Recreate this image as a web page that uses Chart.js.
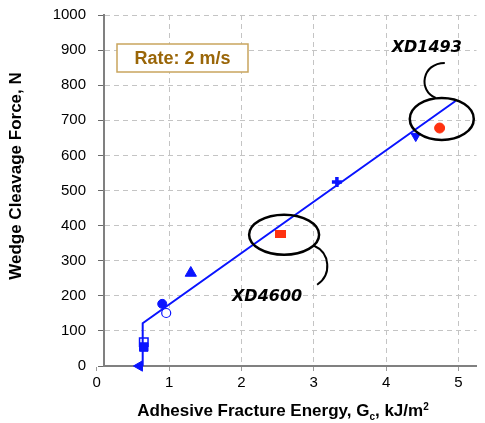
<!DOCTYPE html>
<html>
<head>
<meta charset="utf-8">
<script src="https://cdn.jsdelivr.net/npm/chart.js@4.4.1/dist/chart.umd.min.js"></script>
<style>
  html, body { margin: 0; padding: 0; background: #fff; }
  #wrap { width: 485px; height: 423px; position: relative; }
</style>
</head>
<body>
<div id="wrap"><canvas id="chart" width="485" height="423"></canvas></div>
<script>
// values
const xTicks = [0, 1, 2, 3, 4, 5];
const yTicks = [0, 100, 200, 300, 400, 500, 600, 700, 800, 900, 1000];

// blue markers: left triangle, open square, filled square, filled circle,
// open circle, up triangle, cross, down triangle
const blueX = [0.59, 0.65, 0.65, 0.905, 0.96, 1.30, 3.32, 4.41];
const blueY = [0, 68, 54, 177, 151, 265, 524, 655];

// red markers: XD4600, XD1493
const redX = [2.54, 4.74];
const redY = [376, 678];

// fitted trend line
const fitX = [0.635, 0.635, 4.96];
const fitY = [0, 122, 755];

// callouts
const calloutNames = ['XD4600', 'XD1493'];
const calloutX = [2.59, 4.77];
const calloutY = [374, 704];

const BLUE = '#0a14ff';
const RED = '#ff3210';

function toPoints(xs, ys) {
    return xs.map((x, i) => ({ x: x, y: ys[i] }));
}

// wide red rectangle marker
const redRect = document.createElement('canvas');
redRect.width = 11;
redRect.height = 8;
(function () {
    const c = redRect.getContext('2d');
    c.fillStyle = RED;
    c.fillRect(0, 0, 11, 8);
})();

const decorations = {
    id: 'decorations',
    afterDraw(chart) {
        const ctx = chart.ctx;
        const xs = chart.scales.x;
        const ys = chart.scales.y;
        ctx.save();

        // Rate box
        ctx.fillStyle = '#fff';
        ctx.fillRect(117, 44, 131, 28);
        ctx.strokeStyle = '#c9a55e';
        ctx.lineWidth = 1.5;
        ctx.strokeRect(117, 44, 131, 28);
        ctx.fillStyle = '#9a6608';
        ctx.font = 'bold 18px "Liberation Sans", Arial, sans-serif';
        ctx.textAlign = 'center';
        ctx.textBaseline = 'middle';
        ctx.fillText('Rate: 2 m/s', 182.5, 59);

        // callout ellipses
        ctx.strokeStyle = '#000';
        ctx.lineWidth = 2.5;
        const ex0 = xs.getPixelForValue(calloutX[0]), ey0 = ys.getPixelForValue(calloutY[0]);
        const ex1 = xs.getPixelForValue(calloutX[1]), ey1 = ys.getPixelForValue(calloutY[1]);
        ctx.beginPath();
        ctx.ellipse(ex0, ey0, 35, 20, 0, 0, Math.PI * 2);
        ctx.stroke();
        ctx.beginPath();
        ctx.ellipse(ex1, ey1, 32, 21, 0, 0, Math.PI * 2);
        ctx.stroke();

        // curly tails
        ctx.lineWidth = 2;
        ctx.beginPath();
        ctx.moveTo(ex0 + 30, ey0 + 11);
        ctx.bezierCurveTo(ex0 + 46, ey0 + 18, ex0 + 48, ey0 + 40, ex0 + 33, ey0 + 50);
        ctx.stroke();
        ctx.beginPath();
        ctx.moveTo(ex1 - 6, ey1 - 21);
        ctx.bezierCurveTo(ex1 - 24, ey1 - 28, ex1 - 20, ey1 - 56, ex1 + 3, ey1 - 56);
        ctx.stroke();

        // callout labels
        ctx.fillStyle = '#000';
        ctx.font = 'italic bold 16px "DejaVu Sans", sans-serif';
        ctx.fillText(calloutNames[0], ex0 - 17, ey0 + 62);
        ctx.fillText(calloutNames[1], ex1 - 15, ey1 - 71);

        // y axis title
        ctx.font = 'bold 17px "Liberation Sans", Arial, sans-serif';
        ctx.save();
        ctx.translate(16, 176);
        ctx.rotate(-Math.PI / 2);
        ctx.fillText('Wedge Cleavage Force, N', 0, 0);
        ctx.restore();

        // x axis title with subscript and superscript
        const big = 'bold 17px "Liberation Sans", Arial, sans-serif';
        const small = 'bold 10px "Liberation Sans", Arial, sans-serif';
        const parts = [
            ['Adhesive Fracture Energy, G', big, 0],
            ['c', small, 4],
            [', kJ/m', big, 0],
            ['2', small, -6]
        ];
        let total = 0;
        parts.forEach(p => { ctx.font = p[1]; total += ctx.measureText(p[0]).width; });
        let cx = 283 - total / 2;
        ctx.textAlign = 'left';
        ctx.textBaseline = 'alphabetic';
        parts.forEach(p => {
            ctx.font = p[1];
            ctx.fillText(p[0], cx, 416 + p[2]);
            cx += ctx.measureText(p[0]).width;
        });

        ctx.restore();
    }
};

new Chart(document.getElementById('chart'), {
    type: 'scatter',
    data: {
        datasets: [
            {
                type: 'line',
                data: toPoints(fitX, fitY),
                borderColor: BLUE,
                borderWidth: 2,
                pointRadius: 0,
                fill: false,
                tension: 0,
                order: 0
            },
            {
                data: toPoints(blueX, blueY),
                pointStyle: ['triangle', 'rect', 'rect', 'circle', 'circle', 'triangle', 'cross', 'triangle'],
                rotation: [-90, 0, 0, 0, 0, 0, 0, 180],
                radius: [6, 6, 6, 4.5, 4.5, 6.5, 5, 5.5],
                backgroundColor: [BLUE, '#fff', BLUE, BLUE, '#fff', BLUE, BLUE, BLUE],
                borderColor: BLUE,
                borderWidth: [1, 1.5, 1, 1, 1.2, 1, 3.5, 1],
                clip: false,
                order: 1
            },
            {
                data: toPoints(redX, redY),
                pointStyle: [redRect, 'circle'],
                radius: [5.5, 5],
                backgroundColor: RED,
                borderColor: RED,
                borderWidth: 1,
                order: 1
            }
        ]
    },
    options: {
        responsive: false,
        animation: false,
        events: [],
        layout: { padding: { top: 15, right: 0, left: 0, bottom: 0 } },
        plugins: {
            legend: { display: false },
            tooltip: { enabled: false }
        },
        scales: {
            x: {
                type: 'linear',
                min: 0.1,
                max: 5.25,
                afterBuildTicks: scale => { scale.ticks = xTicks.map(v => ({ value: v })); },
                afterFit: scale => {
                    scale.height = 57;
                    scale.paddingLeft = 0;
                    scale.paddingRight = 0;
                },
                border: { color: '#808080', width: 2, dash: [5, 4] },
                grid: {
                    color: c => (c.tick && c.tick.value === 0) ? 'rgba(0,0,0,0)' : '#c4c4c4',
                    tickColor: '#9a9a9a',
                    tickLength: 5,
                    tickBorderDash: []
                },
                ticks: {
                    color: '#000',
                    padding: 3,
                    font: { family: '"Liberation Sans", Arial, sans-serif', size: 15 },
                    maxRotation: 0,
                    callback: v => String(v)
                }
            },
            y: {
                type: 'linear',
                min: 0,
                max: 1000,
                afterBuildTicks: scale => { scale.ticks = yTicks.map(v => ({ value: v })); },
                afterFit: scale => {
                    scale.width = 104;
                    scale.paddingTop = 0;
                    scale.paddingBottom = 0;
                },
                border: { color: '#808080', width: 2, dash: [5, 4] },
                grid: {
                    color: c => (c.tick && c.tick.value === 0) ? 'rgba(0,0,0,0)' : '#c4c4c4',
                    tickColor: '#6a6a6a',
                    tickLength: 6,
                    tickBorderDash: []
                },
                ticks: {
                    color: '#000',
                    padding: 12,
                    font: { family: '"Liberation Sans", Arial, sans-serif', size: 15 },
                    callback: v => String(v)
                }
            }
        }
    },
    plugins: [decorations]
});
</script>
</body>
</html>
